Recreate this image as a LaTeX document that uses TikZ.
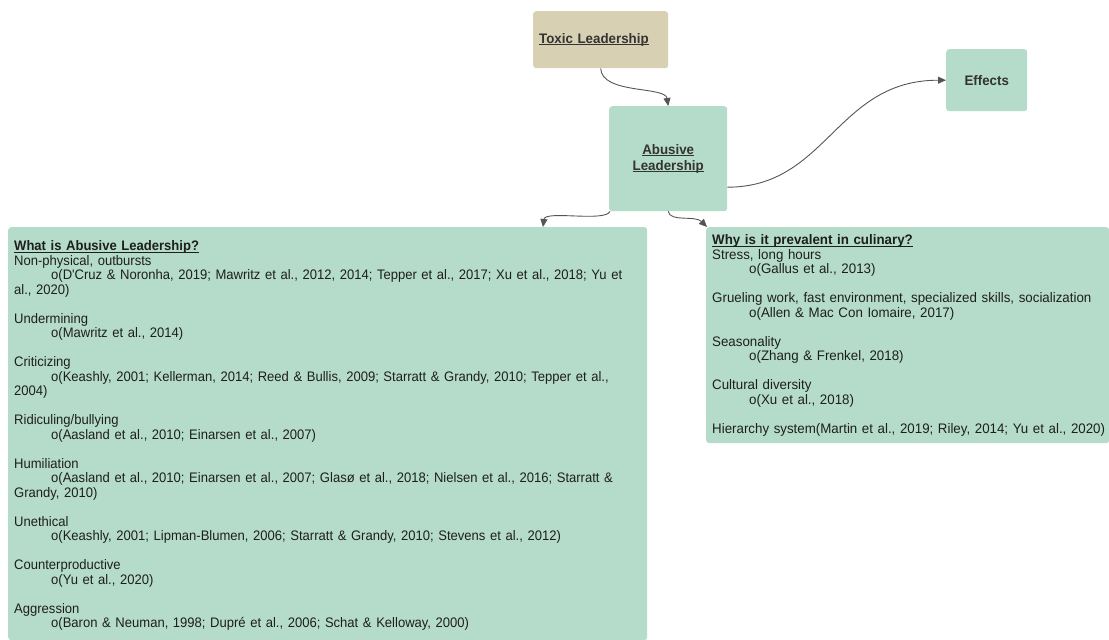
\documentclass[tikz,border=0pt]{standalone}
\usepackage{fontspec}
\setmainfont{Liberation Sans}[FakeStretch=0.965]
\newfontfamily\leftfont{Liberation Sans}[FakeStretch=0.945]
\usetikzlibrary{arrows.meta}
\definecolor{mint}{HTML}{B5DCCB}
\definecolor{beige}{HTML}{D8D0B2}
\definecolor{titletext}{HTML}{333333}
\definecolor{bodytext}{HTML}{1E1E1E}
\definecolor{conn}{HTML}{555555}
\newcommand\dgfont{\fontsize{13.8pt}{14.5pt}\selectfont}
\newcommand\ulfix[1]{\setbox0\hbox{#1}\rlap{\rule[-2pt]{\wd0}{0.9pt}}\box0}
\newcommand\tabind{\hspace*{37pt}}
\newcommand\blankln{\mbox{}\\}
\begin{document}
\begin{tikzpicture}[x=1pt,y=-1pt,font=\dgfont,
  box/.style={rectangle, rounded corners=3pt, draw=none, inner sep=0pt, anchor=north west},
  title/.style={text=titletext, font=\fontsize{13.8pt}{16pt}\selectfont\bfseries},
  body/.style={anchor=north west, inner sep=0pt, align=left, text=bodytext, font=\dgfont},
  connector/.style={draw=conn, line width=0.9pt, -{Triangle[length=8pt,width=7pt]}}]
\useasboundingbox (0,0) rectangle (1109,640);

\node[box, fill=beige, minimum width=135pt, minimum height=57pt, text width=123pt, inner xsep=6pt, align=left, title] (toxic) at (533,11) {\ulfix{Toxic Leadership}};
\node[box, fill=mint, minimum width=118pt, minimum height=105pt, align=center, title] (abusive) at (609,106) {\ulfix{Abusive}\\\ulfix{Leadership}};
\node[box, fill=mint, minimum width=81pt, minimum height=62pt, title] (effects) at (946,49) {Effects};

\node[box, fill=mint, minimum width=639pt, minimum height=413pt] (whatbox) at (8,227) {};
\node[body, text width=630pt, font=\dgfont\leftfont] (whattext) at (14,240.5) {\rule{0pt}{10pt}\textbf{\ulfix{What is Abusive Leadership?}}\\
Non-physical, outbursts\\
\tabind o(D'Cruz \& Noronha, 2019; Mawritz et al., 2012, 2014; Tepper et al., 2017; Xu et al., 2018; Yu et\\
al., 2020)\\
\blankln
Undermining\\
\tabind o(Mawritz et al., 2014)\\
\blankln
Criticizing\\
\tabind o(Keashly, 2001; Kellerman, 2014; Reed \& Bullis, 2009; Starratt \& Grandy, 2010; Tepper et al.,\\
2004)\\
\blankln
Ridiculing/bullying\\
\tabind o(Aasland et al., 2010; Einarsen et al., 2007)\\
\blankln
Humiliation\\
\tabind o(Aasland et al., 2010; Einarsen et al., 2007; Glasø et al., 2018; Nielsen et al., 2016; Starratt \&\\
Grandy, 2010)\\
\blankln
Unethical\\
\tabind o(Keashly, 2001; Lipman-Blumen, 2006; Starratt \& Grandy, 2010; Stevens et al., 2012)\\
\blankln
Counterproductive\\
\tabind o(Yu et al., 2020)\\
\blankln
Aggression\\
\tabind o(Baron \& Neuman, 1998; Dupré et al., 2006; Schat \& Kelloway, 2000)};

\node[box, fill=mint, minimum width=403pt, minimum height=216pt] (whybox) at (706,227) {};
\node[body, text width=420pt] (whytext) at (712,234.5) {\rule{0pt}{10pt}\textbf{\ulfix{Why is it prevalent in culinary?}}\\
Stress, long hours\\
\tabind o(Gallus et al., 2013)\\
\blankln
Grueling work, fast environment, specialized skills, socialization\\
\tabind o(Allen \& Mac Con Iomaire, 2017)\\
\blankln
Seasonality\\
\tabind o(Zhang \& Frenkel, 2018)\\
\blankln
Cultural diversity\\
\tabind o(Xu et al., 2018)\\
\blankln
Hierarchy system(Martin et al., 2019; Riley, 2014; Yu et al., 2020)};

\draw[connector] (toxic.south) .. controls +(1,26) and +(-3,-20) .. (abusive.north);
\draw[connector] ([yshift=-28.5pt]abusive.east) .. controls +(100,0) and +(-110,0) .. (effects.west);
\draw[connector] ([xshift=1pt]abusive.south west) .. controls +(-5,11) and +(2,-17) .. ([xshift=535pt]whatbox.north west);
\draw[connector] (abusive.south) .. controls +(2,11) and +(-12,-12) .. ([xshift=1pt]whybox.north west);
\end{tikzpicture}
\end{document}
